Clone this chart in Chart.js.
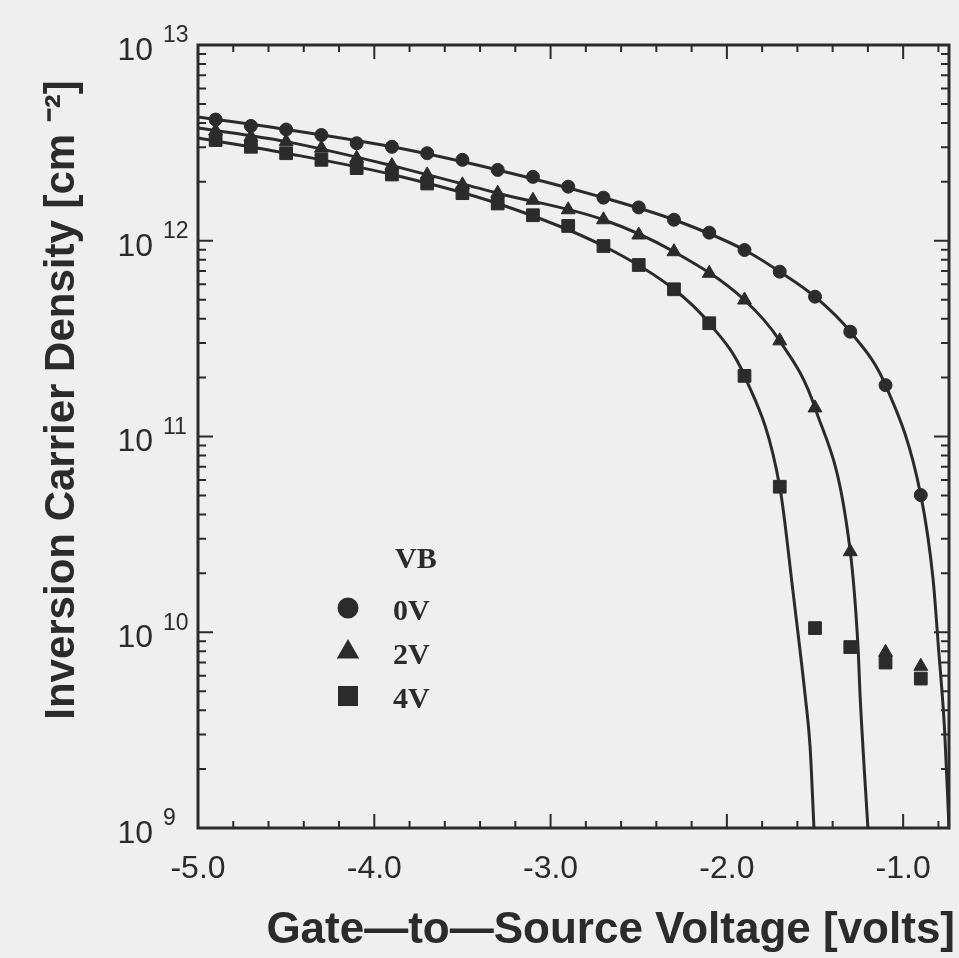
<!DOCTYPE html>
<html lang="en">
<head>
  <meta charset="UTF-8">
  <title>Inversion Carrier Density vs Gate-to-Source Voltage</title>
  <script src="https://cdn.jsdelivr.net/npm/chart.js"></script>
  <style>
    body {
      margin: 0;
      background: #efefef;
    }
    canvas {
      display: block;
    }
  </style>
</head>
<body>
  <canvas id="density" width="959" height="958"></canvas>

  <script>
    // measured points (markers), gate voltage in volts
    const vgs = [-4.9, -4.7, -4.5, -4.3, -4.1, -3.9, -3.7, -3.5, -3.3, -3.1, -2.9,
                 -2.7, -2.5, -2.3, -2.1, -1.9, -1.7, -1.5, -1.3, -1.1, -0.9];
    const n0V = [4.16e12, 3.86e12, 3.70e12, 3.47e12, 3.15e12, 3.02e12, 2.80e12, 2.59e12, 2.30e12, 2.12e12, 1.89e12,
                 1.66e12, 1.48e12, 1.28e12, 1.10e12, 8.97e11, 6.95e11, 5.18e11, 3.43e11, 1.83e11, 5.02e10];
    const n2V = [3.64e12, 3.40e12, 3.21e12, 2.97e12, 2.64e12, 2.42e12, 2.17e12, 1.93e12, 1.75e12, 1.61e12, 1.44e12,
                 1.28e12, 1.07e12, 8.79e11, 6.82e11, 4.98e11, 3.08e11, 1.40e11, 2.58e10, 7.9e9, 6.7e9];
    const n4V = [3.27e12, 3.02e12, 2.80e12, 2.59e12, 2.35e12, 2.18e12, 1.96e12, 1.75e12, 1.55e12, 1.35e12, 1.19e12,
                 9.4e11, 7.52e11, 5.65e11, 3.79e11, 2.04e11, 5.54e10, 1.05e10, 8.4e9, 7.0e9, 5.8e9];

    // model curves
    const fit0V_x = [-5.0, -4.5, -3.9, -3.3, -2.7, -2.3, -1.9, -1.7, -1.5, -1.3, -1.1, -0.9, -0.83, -0.80, -0.765, -0.74];
    const fit0V_y = [4.29e12, 3.70e12, 3.02e12, 2.30e12, 1.66e12, 1.28e12, 8.97e11, 6.95e11, 5.18e11, 3.43e11, 1.83e11,
                     5.02e10, 1.85e10, 8.4e9, 3.17e9, 1.0e9];
    const fit2V_x = [-5.0, -4.5, -3.9, -3.3, -2.7, -2.3, -1.9, -1.7, -1.5, -1.3, -1.256, -1.244, -1.2];
    const fit2V_y = [3.77e12, 3.21e12, 2.42e12, 1.75e12, 1.28e12, 8.79e11, 4.98e11, 3.08e11, 1.40e11, 2.58e10,
                     8.4e9, 4.69e9, 1.0e9];
    const fit4V_x = [-5.0, -4.5, -3.9, -3.3, -2.7, -2.3, -2.1, -1.9, -1.7, -1.624, -1.592, -1.555, -1.528, -1.506];
    const fit4V_y = [3.35e12, 2.80e12, 2.18e12, 1.55e12, 9.4e11, 5.65e11, 3.79e11, 2.04e11, 5.54e10, 1.59e10,
                     9.13e9, 4.67e9, 2.6e9, 1.0e9];

    const xTicks = [-5, -4, -3, -2, -1];
    const yExps = [9, 10, 11, 12, 13];
    const legendTitle = 'VB';

    const ink = '#2b2b2b';
    const sans = "'Liberation Sans', Arial, Helvetica, sans-serif";
    const serif = "'Liberation Serif', 'Times New Roman', serif";

    const pts = (xs, ys) => xs.map((x, i) => ({ x: x, y: ys[i] }));

    const curve = (xs, ys) => ({
      data: pts(xs, ys),
      showLine: true,
      pointRadius: 0,
      borderColor: ink,
      borderWidth: 3,
      cubicInterpolationMode: 'monotone',
      fill: false
    });

    const marks = (label, ys, style, r) => ({
      label: label,
      data: pts(vgs, ys),
      showLine: false,
      pointStyle: style,
      pointRadius: r,
      backgroundColor: ink,
      borderColor: ink,
      borderWidth: 1
    });

    // frame, inward ticks, log labels, axis titles and the legend box
    const decor = {
      id: 'decor',
      afterDatasetsDraw(chart) {
        const { ctx, chartArea: a, scales: { x, y } } = chart;
        ctx.save();
        ctx.strokeStyle = ink;
        ctx.fillStyle = ink;
        ctx.lineWidth = 2;
        ctx.beginPath();
        for (let k = 0; k <= 25; k++) {
          const v = -5 + k * 0.2;
          if (v > x.max) break;
          const px = x.getPixelForValue(v);
          const len = k % 5 === 0 ? 14 : 7;
          ctx.moveTo(px, a.bottom); ctx.lineTo(px, a.bottom - len);
          ctx.moveTo(px, a.top); ctx.lineTo(px, a.top + len);
        }
        for (let e = 9; e <= 12; e++) {
          for (let m = 1; m <= 9; m++) {
            if (m === 1 && e === 9) continue;
            const py = y.getPixelForValue(m * Math.pow(10, e));
            const len = m === 1 ? 15 : 8;
            ctx.moveTo(a.left, py); ctx.lineTo(a.left + len, py);
            ctx.moveTo(a.right, py); ctx.lineTo(a.right - len, py);
          }
        }
        ctx.stroke();
        ctx.lineWidth = 3;
        ctx.strokeRect(a.left, a.top, a.right - a.left, a.bottom - a.top);

        // 10^n labels
        ctx.textBaseline = 'middle';
        yExps.forEach(e => {
          const py = y.getPixelForValue(Math.pow(10, e));
          ctx.font = '32px ' + sans;
          ctx.textAlign = 'right';
          ctx.fillText('10', 153, py + 6);
          ctx.font = '23px ' + sans;
          ctx.textAlign = 'left';
          ctx.fillText(String(e), 163, py - 9);
        });

        // axis titles
        ctx.font = 'bold 44px ' + sans;
        ctx.textAlign = 'right';
        ctx.textBaseline = 'alphabetic';
        ctx.fillText('Gate\u2014to\u2014Source Voltage [volts]', 955, 943);

        ctx.save();
        ctx.translate(74, 400);
        ctx.rotate(-Math.PI / 2);
        ctx.font = 'bold 42px ' + sans;
        ctx.textAlign = 'center';
        ctx.fillText('Inversion Carrier Density [cm \u207B\u00B2]', 0, 0);
        ctx.restore();

        // legend
        ctx.font = 'bold 30px ' + serif;
        ctx.textAlign = 'left';
        ctx.textBaseline = 'middle';
        ctx.fillText(legendTitle, 395, 560);
        const sets = chart.data.datasets.filter(d => d.label);
        const sizes = { circle: 9, triangle: 10, rect: 12 };
        sets.forEach((d, i) => {
          const ly = 610 + i * 44;
          Chart.helpers.drawPoint(ctx, {
            pointStyle: d.pointStyle,
            radius: sizes[d.pointStyle],
            rotation: 0,
            borderWidth: 1
          }, 348, ly - 2);
          ctx.fill();
          ctx.fillText(d.label, 393, ly + 2);
        });
        ctx.restore();
      }
    };

    const ctx = document.getElementById('density').getContext('2d');
    new Chart(ctx, {
      type: 'scatter',
      data: {
        datasets: [
          curve(fit0V_x, fit0V_y),
          curve(fit2V_x, fit2V_y),
          curve(fit4V_x, fit4V_y),
          marks('0V', n0V, 'circle', 6.5),
          marks('2V', n2V, 'triangle', 8),
          marks('4V', n4V, 'rect', 9)
        ]
      },
      options: {
        responsive: false,
        animation: false,
        devicePixelRatio: 1,
        layout: { padding: { top: 45, right: 7, left: 0, bottom: 0 } },
        scales: {
          x: {
            type: 'linear',
            min: -5.0,
            max: -0.74,
            afterBuildTicks: s => { s.ticks = xTicks.map(v => ({ value: v })); },
            afterFit: s => { s.height = 130; },
            ticks: {
              callback: v => v.toFixed(1),
              font: { family: sans, size: 32 },
              color: ink,
              padding: 22,
              maxRotation: 0,
              autoSkip: false
            },
            grid: { display: false, drawTicks: false },
            border: { display: false }
          },
          y: {
            type: 'logarithmic',
            min: 1e9,
            max: 1e13,
            afterFit: s => { s.width = 198; },
            ticks: { display: false },
            grid: { display: false, drawTicks: false },
            border: { display: false }
          }
        },
        plugins: {
          legend: { display: false },
          tooltip: { enabled: false }
        }
      },
      plugins: [decor]
    });
  </script>
</body>
</html>
